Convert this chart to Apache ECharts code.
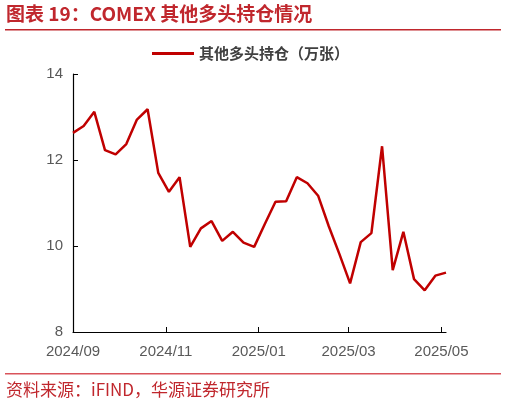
<!DOCTYPE html>
<html><head><meta charset="utf-8">
<script src="https://cdn.jsdelivr.net/npm/echarts@6/dist/echarts.min.js"></script>
<style>html,body{margin:0;padding:0;background:#fff}#c{width:506px;height:407px}</style>
</head><body><div id="c"></div>
<script>
var dates = ['2024-09-03','2024-09-10','2024-09-17','2024-09-24','2024-10-01','2024-10-08','2024-10-15','2024-10-22','2024-10-29','2024-11-05','2024-11-12','2024-11-19','2024-11-26','2024-12-03','2024-12-10','2024-12-17','2024-12-24','2024-12-31','2025-01-07','2025-01-14','2025-01-21','2025-01-28','2025-02-04','2025-02-11','2025-02-18','2025-02-25','2025-03-04','2025-03-11','2025-03-18','2025-03-25','2025-04-01','2025-04-08','2025-04-15','2025-04-22','2025-04-29','2025-05-06'];
var values = [12.63,12.79,13.12,12.23,12.13,12.37,12.94,13.18,11.70,11.26,11.60,9.98,10.41,10.58,10.12,10.33,10.08,9.98,10.51,11.03,11.04,11.60,11.46,11.17,10.46,9.81,9.13,10.09,10.30,12.32,9.44,10.33,9.23,8.97,9.31,9.38];
var tickDates = ['2024-09-03','2024-11-03','2025-01-03','2025-03-03','2025-05-03'];
var tickLabels = ['2024/09','2024/11','2025/01','2025/03','2025/05'];
var yTicks = [8,10,12,14];
var seriesName = '其他多头持仓（万张）';
var titleText = '图表 19：COMEX 其他多头持仓情况';
var sourceText = '资料来源：iFIND，华源证券研究所';

var DAY = 86400000;
function ts(s){var p=s.split('-');return Date.UTC(+p[0],+p[1]-1,+p[2]);}
var t0 = ts(dates[0]);
function dayOf(s){return Math.round((ts(s)-t0)/DAY);}
var tickDays = tickDates.map(dayOf);
var labelMap = {};
tickDays.forEach(function(d,i){labelMap[d]=tickLabels[i];});

var chart = echarts.init(document.getElementById('c'), null, {renderer:'canvas'});
chart.setOption({
  animation:false,
  backgroundColor:'#fff',
  graphic:[
    {type:'text',left:6,top:4,style:{text:titleText,fill:'#C0272D',font:'bold 19px "Noto Sans CJK SC"'}},
    {type:'rect',shape:{x:5,y:29,width:496,height:1.5},style:{fill:'#C0272D'}},
    {type:'rect',shape:{x:5,y:373,width:496,height:1.5},style:{fill:'#D9535A'}},
    {type:'text',left:6,top:381,style:{text:sourceText,fill:'#C0272D',font:'17px "Noto Sans CJK SC"'}}
  ],
  legend:{top:41,left:147,itemWidth:42,itemHeight:3,itemGap:10,icon:'rect',
    textStyle:{color:'#404040',fontSize:15,fontWeight:'bold',fontFamily:'Noto Sans CJK SC'},
    data:[seriesName]},
  grid:{left:73,right:60,top:74,bottom:75,containLabel:false},
  xAxis:{type:'value',min:0,max:dayOf(dates[dates.length-1]),
    axisLine:{lineStyle:{color:'#000',width:1.2}},
    axisTick:{show:true,inside:true,length:5,lineStyle:{color:'#000'},customValues:tickDays},
    axisLabel:{color:'#595959',fontSize:15,fontFamily:'Liberation Sans',margin:12,
      customValues:tickDays,
      formatter:function(v){return labelMap[v]||'';}},
    splitLine:{show:false}},
  yAxis:{type:'value',min:8,max:14,interval:2,
    axisLine:{show:true,lineStyle:{color:'#000',width:1.2}},
    axisTick:{show:true,inside:true,length:5,lineStyle:{color:'#000'}},
    axisLabel:{color:'#595959',fontSize:15,fontFamily:'Liberation Sans',margin:10},
    splitLine:{show:false}},
  series:[{name:seriesName,type:'line',symbol:'none',smooth:false,
    lineStyle:{color:'#C00000',width:2.5},itemStyle:{color:'#C00000'},
    data:dates.map(function(d,i){return [dayOf(d),values[i]];})}]
});
</script></body></html>
